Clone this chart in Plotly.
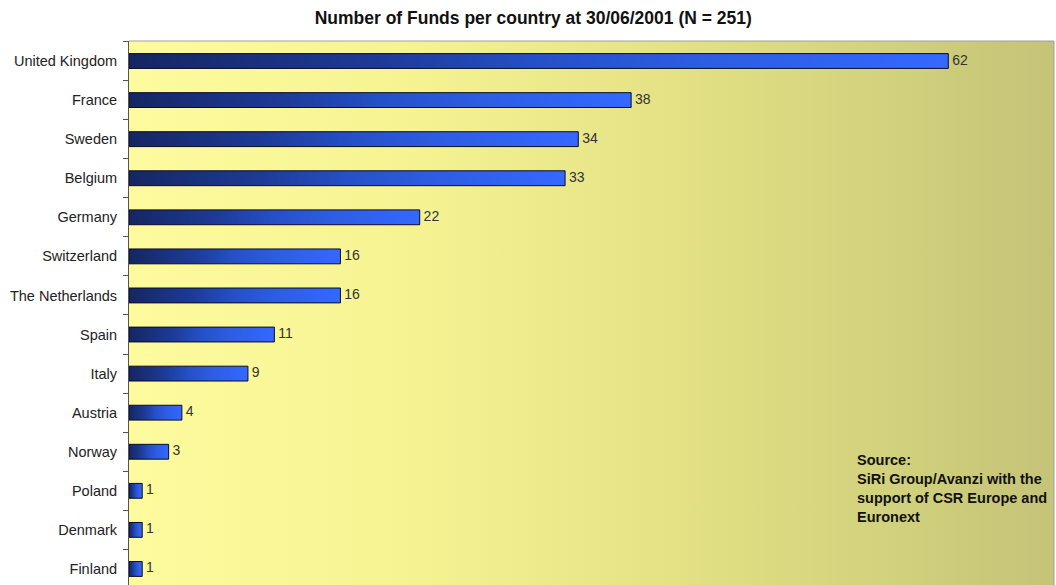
import plotly.graph_objects as go

# Number of funds per country, 30/06/2001
countries = ["United Kingdom", "France", "Sweden", "Belgium", "Germany",
             "Switzerland", "The Netherlands", "Spain", "Italy", "Austria",
             "Norway", "Poland", "Denmark", "Finland"]
funds = [62, 38, 34, 33, 22, 16, 16, 11, 9, 4, 3, 1, 1, 1]

title_text = "Number of Funds per country at 30/06/2001 (N = 251)"
source_lines = ["Source:", "SiRi Group/Avanzi with the",
                "support of CSR Europe and", "Euronext"]

X_MAX = 70
Y_TOP, Y_BOTTOM = -0.512, 13.41
HALF_BAR = 0.19
FONT = "Liberation Sans, Arial, sans-serif"

bar_scale = [[0.0, "#152662"], [0.3, "#1d3a96"], [0.5, "#2550c8"],
             [0.7, "#2d5de2"], [1.0, "#3468ff"]]
bg_scale = [[0.0, "#fdfb9d"], [0.3, "#f6f393"], [0.6, "#e3e184"],
            [0.85, "#d0cf7c"], [1.0, "#c4c378"]]

fig = go.Figure()

# plot-area background with a horizontal yellow-to-olive gradient
fig.add_trace(go.Scatter(
    x=[0, X_MAX, X_MAX, 0, 0], y=[Y_TOP, Y_TOP, Y_BOTTOM, Y_BOTTOM, Y_TOP],
    mode="lines", line=dict(width=0), fill="toself",
    fillgradient=dict(type="horizontal", colorscale=bg_scale),
    hoverinfo="skip", showlegend=False))

# one gradient-filled rectangle per country
for i, (name, v) in enumerate(zip(countries, funds)):
    fig.add_trace(go.Scatter(
        x=[0, v, v, 0, 0],
        y=[i - HALF_BAR, i - HALF_BAR, i + HALF_BAR, i + HALF_BAR, i - HALF_BAR],
        mode="lines", line=dict(color="#0b0b2a", width=1), fill="toself",
        fillgradient=dict(type="horizontal", colorscale=bar_scale),
        name=name, hoverinfo="skip", showlegend=False))

# value labels at the end of each bar
fig.add_trace(go.Scatter(
    x=funds, y=list(range(len(countries))), mode="text",
    text=["\u00a0" + str(v) for v in funds], textposition="middle right",
    textfont=dict(family=FONT, size=14, color="#333333"),
    hoverinfo="skip", showlegend=False))

fig.update_layout(
    width=1056, height=585,
    margin=dict(l=129, r=2, t=41, b=0),
    paper_bgcolor="white", plot_bgcolor="white",
    title=dict(text=f"<b>{title_text}</b>", xref="container", x=0.505,
               xanchor="center", yref="container", y=1 - 18 / 585,
               yanchor="middle",
               font=dict(family=FONT, size=17.5, color="#111111")),
    xaxis=dict(range=[0, X_MAX], visible=False, showgrid=False, zeroline=False),
    yaxis=dict(range=[Y_BOTTOM, Y_TOP], tickmode="array",
               tickvals=list(range(len(countries))), ticktext=countries,
               ticks="", ticklabelstandoff=8, showgrid=False, zeroline=False,
               showline=True, linecolor="#555555", linewidth=1,
               tickfont=dict(family=FONT, size=14.5, color="#222222"),
               minor=dict(ticks="outside", tickmode="array",
                          tickvals=[i + 0.5 for i in range(-1, len(countries))],
                          ticklen=5, tickcolor="#555555", tickwidth=1,
                          showgrid=False)),
    shapes=[dict(type="line", xref="paper", yref="paper", x0=0, x1=1, y0=1, y1=1,
                 line=dict(color="#a0a0a0", width=1)),
            dict(type="line", xref="paper", yref="paper", x0=1, x1=1, y0=0, y1=1,
                 line=dict(color="#a0a0a0", width=1))],
)

# source note, one line per annotation
for k, line in enumerate(source_lines):
    fig.add_annotation(
        text=f"<b>{line}</b>", xref="paper", yref="paper",
        x=(855 - 129) / 925, y=1 - (460 - 41 + 19 * k) / 544,
        xanchor="left", yanchor="middle", showarrow=False, align="left",
        font=dict(family=FONT, size=14.5, color="#111111"))

fig.write_html("out.html")
